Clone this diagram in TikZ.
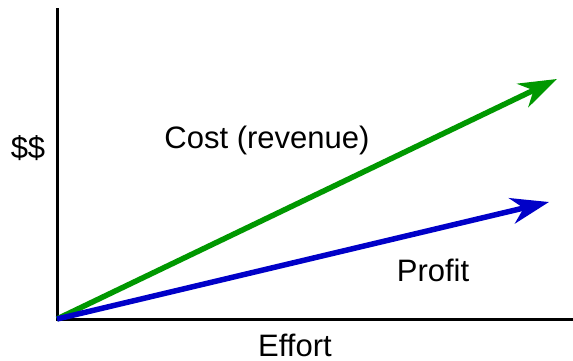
\documentclass[tikz,border=0pt]{standalone}
\usepackage{fontspec}
\setmainfont{Liberation Sans}
\usetikzlibrary{arrows.meta}
\definecolor{costgreen}{RGB}{0,152,0}
\definecolor{profitblue}{RGB}{0,0,200}
\tikzset{
    axisline/.style={line width=3pt, black},
    trendarrow/.style={line width=5.5pt, -{Stealth[length=38pt,width=26pt,inset=12pt]}},
    lbl/.style={font=\fontsize{31}{36}\selectfont, inner sep=0pt}
}
\begin{document}
\begin{tikzpicture}[x=1pt,y=-1pt]
        \useasboundingbox (0,0) rectangle (573,360);
        % Axes
        \coordinate (O) at (57,319);
        \coordinate (ytop) at (57,8);
        \coordinate (xend) at (573,319);
        \draw[axisline] (ytop) -- (O) -- (xend);

        % Arrows
        \coordinate (costtip) at (557,79);
        \coordinate (profittip) at (549,202);
        \draw[trendarrow, costgreen] (O) -- (costtip);
        \draw[trendarrow, profitblue] (O) -- (profittip);

        % Labels
        \node[lbl] (dollars) at (28,148) {\$\$};
        \node[lbl] (cost) at (267,140) {Cost (revenue)};
        \node[lbl] (profit) at (433,270) {Profit};
        \node[lbl] (effort) at (295,345) {Effort};
    \end{tikzpicture}
\end{document}
